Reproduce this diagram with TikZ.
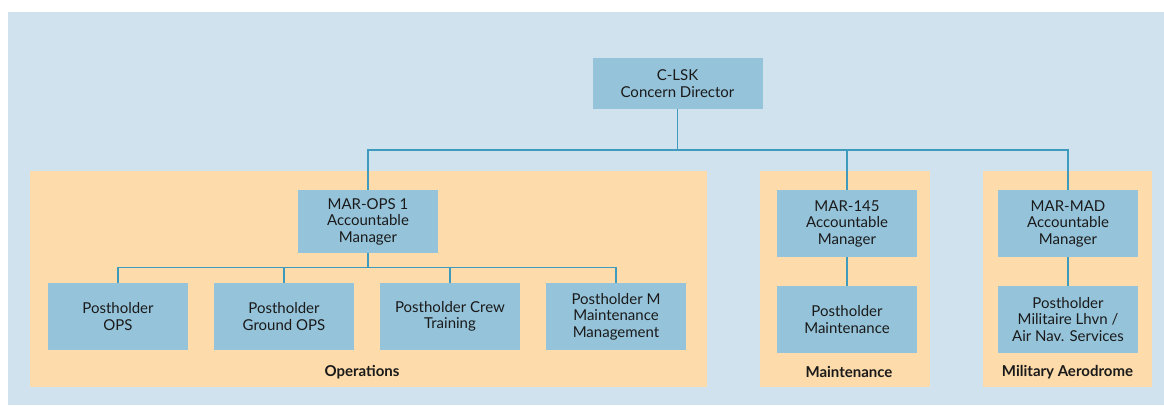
\documentclass[tikz,border=0pt]{standalone}
\usepackage{fontspec}
\setmainfont{Lato}
\definecolor{bgblue}{HTML}{CFE2ED}
\definecolor{panel}{HTML}{FDDBAA}
\definecolor{boxblue}{HTML}{95C3DA}
\definecolor{linec}{HTML}{3E9BBE}
\definecolor{txt}{HTML}{1A1A1A}
\tikzset{
  orgbox/.style={fill=boxblue, draw=none, inner sep=0pt, minimum width=140pt, minimum height=67pt, align=center, text=txt, font=\fontsize{15}{16.5}\selectfont},
  panelbox/.style={fill=panel, draw=none},
  conn/.style={draw=linec, line width=1.5pt},
  grouplabel/.style={font=\bfseries\fontsize{15}{16.5}\selectfont, text=txt, anchor=center}
}
\begin{document}
\begin{tikzpicture}[x=1pt,y=-1pt]
\useasboundingbox (0,0) rectangle (1164,405);
\fill[white] (0,0) rectangle (1164,405);
\fill[bgblue] (8,12) rectangle (1164,405);
% panels
\fill[panel] (30,171) rectangle (707,387);
\fill[panel] (760,171) rectangle (930,387);
\fill[panel] (983,171) rectangle (1152,387);
\node[grouplabel] (lops) at (362,372) {Operations};
\node[grouplabel] (lmnt) at (849,372) {Maintenance};
\node[grouplabel] (lmil) at (1067.5,372) {Military Aerodrome};
% boxes
\node[orgbox, minimum width=170pt, minimum height=51pt] (clsk) at (677.5,83.5) {C-LSK\\Concern Director};
\node[orgbox, minimum height=63pt] (marops) at (368,221.5) {MAR-OPS 1\\Accountable\\Manager};
\node[orgbox] (mar145) at (847,223.5) {MAR-145\\Accountable\\Manager};
\node[orgbox] (marmad) at (1068,223.5) {MAR-MAD\\Accountable\\Manager};
\node[orgbox] (p1) at (118,316.5) {Postholder\\OPS};
\node[orgbox] (p2) at (284,316.5) {Postholder\\Ground OPS};
\node[orgbox] (p3) at (450,316.5) {Postholder Crew\\Training};
\node[orgbox] (p4) at (616,316.5) {Postholder M\\Maintenance\\Management};
\node[orgbox] (pm) at (847,319.5) {Postholder\\Maintenance};
\node[orgbox] (pmil) at (1068,319.5) {Postholder\\Militaire Lhvn /\\Air Nav. Services};
% connectors
\coordinate (bus) at (0,150);
\coordinate (sub) at (0,267.5);
\draw[conn] (clsk.south) -- (clsk.south |- bus);
\draw[conn] (marops.north) |- (marmad.north |- bus) -- (marmad.north);
\draw[conn] (mar145.north) -- (mar145.north |- bus);
\draw[conn] (marops.south) -- (marops.south |- sub);
\draw[conn] (p1.north) |- (p4.north |- sub) -- (p4.north);
\draw[conn] (p2.north) -- (p2.north |- sub);
\draw[conn] (p3.north) -- (p3.north |- sub);
\draw[conn] (mar145.south) -- (pm.north);
\draw[conn] (marmad.south) -- (pmil.north);
\end{tikzpicture}
\end{document}
